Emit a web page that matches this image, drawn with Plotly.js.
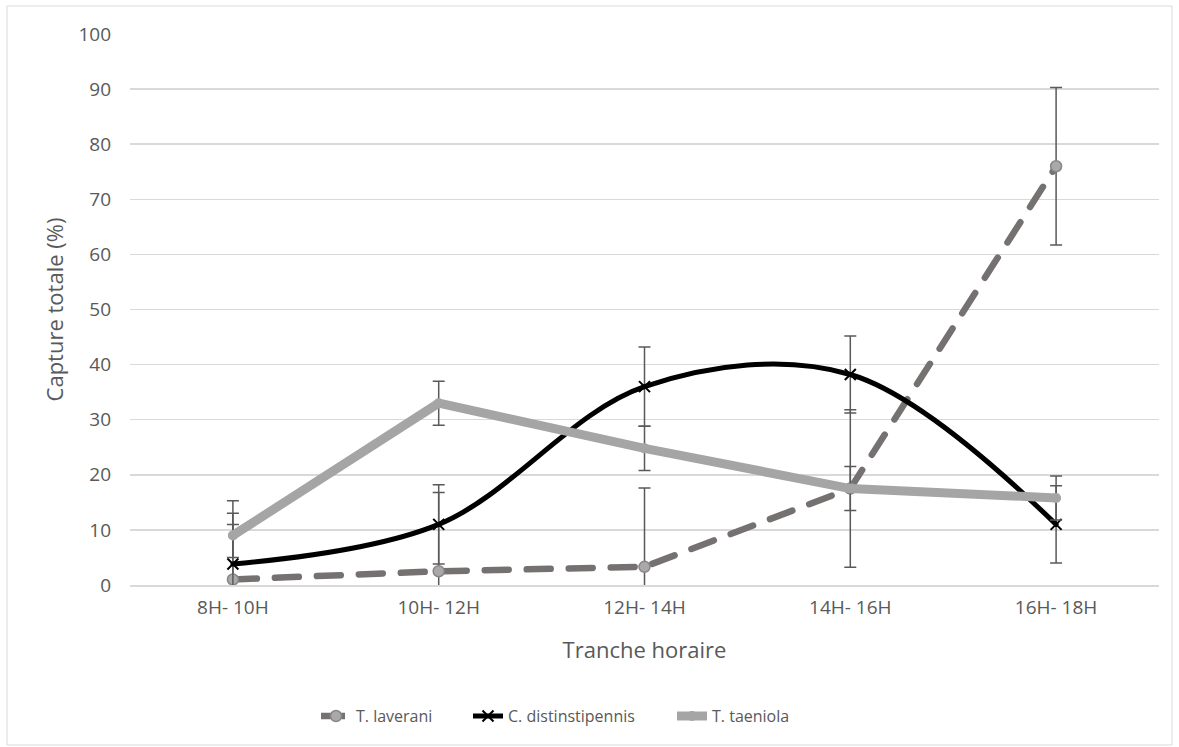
<!DOCTYPE html>
<html>
<head>
<meta charset="utf-8">
<script src="https://cdn.plot.ly/plotly-3.0.1.min.js"></script>
<style>
body{margin:0;background:#fff;}
#chart{width:1179px;height:747px;}
.scatterlayer path.js-line{stroke-linecap:round !important;}
</style>
</head>
<body>
<div id="chart"></div>
<script>
const categories = ["8H- 10H", "10H- 12H", "12H- 14H", "14H- 16H", "16H- 18H"];
const laverani = [1.0, 2.5, 3.3, 17.5, 76.0];
const laveraniErr = [14.3, 14.3, 14.3, 14.3, 14.3];
const distinstipennis = [3.8, 11.0, 36.0, 38.2, 11.0];
const distinstipennisErr = [7.2, 7.2, 7.2, 7.0, 7.0];
const taeniola = [9.0, 33.0, 24.8, 17.5, 15.8];
const taeniolaErr = [4.0, 4.0, 4.0, 4.0, 4.0];
const yTicks = [0, 10, 20, 30, 40, 50, 60, 70, 80, 90, 100];

const errStyle = {type: 'data', visible: true, color: '#595959', thickness: 1.5, width: 6};

const traces = [
  {
    x: categories, y: laverani, name: 'T. laverani', type: 'scatter', mode: 'lines+markers',
    legend: 'legend',
    line: {color: '#767171', width: 6.5, dash: '24px,18px'},
    marker: {symbol: 'circle', size: 11, color: '#A9A9A9', line: {color: '#8a8686', width: 1.5}},
    error_y: Object.assign({array: laveraniErr}, errStyle)
  },
  {
    x: categories, y: distinstipennis, name: 'C. distinstipennis', type: 'scatter', mode: 'lines+markers',
    legend: 'legend2',
    line: {color: '#000000', width: 5, shape: 'spline', smoothing: 1},
    marker: {symbol: 'x-thin-open', size: 11, color: '#000000', line: {color: '#000000', width: 2}},
    error_y: Object.assign({array: distinstipennisErr}, errStyle)
  },
  {
    x: categories, y: taeniola, name: 'T. taeniola', type: 'scatter', mode: 'lines+markers',
    legend: 'legend3',
    line: {color: '#A5A5A5', width: 9},
    marker: {symbol: 'circle', size: 10, color: '#A5A5A5'},
    error_y: Object.assign({array: taeniolaErr}, errStyle)
  }
];

const fontFam = '"Open Sans", sans-serif';
const W = 1029, L = 130;
function legendAt(textStartPx) {
  return {orientation: 'h', x: (textStartPx - 40 - L) / W, xanchor: 'left', y: -0.238, yanchor: 'middle',
          font: {size: 16, color: '#595959'}, bgcolor: 'rgba(0,0,0,0)'};
}
const layout = {
  width: 1179, height: 747,
  margin: {l: 130, r: 20, t: 34, b: 162},
  paper_bgcolor: '#ffffff', plot_bgcolor: '#ffffff',
  font: {family: fontFam, color: '#595959', size: 16},
  showlegend: true,
  legend: legendAt(356),
  legend2: legendAt(508),
  legend3: legendAt(712),
  xaxis: {
    type: 'category', showgrid: false, zeroline: false,
    showline: true, linecolor: '#d9d9d9', linewidth: 1.5,
    ticks: '', tickfont: {size: 19, color: '#595959'}, ticklabelstandoff: 5,
    title: {text: 'Tranche horaire', font: {size: 22, color: '#595959'}, standoff: 23},
    range: [-0.5, 4.5]
  },
  yaxis: {
    range: [0, 100], tickvals: yTicks, ticktext: yTicks.map(String),
    showgrid: true, gridcolor: '#d9d9d9', gridwidth: 1.5,
    zeroline: false, showline: false, ticks: '',
    tickfont: {size: 19, color: '#595959'}, ticklabelstandoff: 18,
    title: {text: 'Capture totale (%)', font: {size: 22, color: '#595959'}, standoff: 8}
  },
  shapes: [{
    type: 'rect', xref: 'paper', yref: 'paper',
    x0: (7 - 130) / 1029, x1: (1172 - 130) / 1029,
    y0: (585 - 745) / 551, y1: (585 - 6) / 551,
    line: {color: '#d9d9d9', width: 1}, fillcolor: 'rgba(0,0,0,0)', layer: 'below'
  }]
};

Plotly.newPlot('chart', traces, layout, {displayModeBar: false, staticPlot: true});
</script>
</body>
</html>
